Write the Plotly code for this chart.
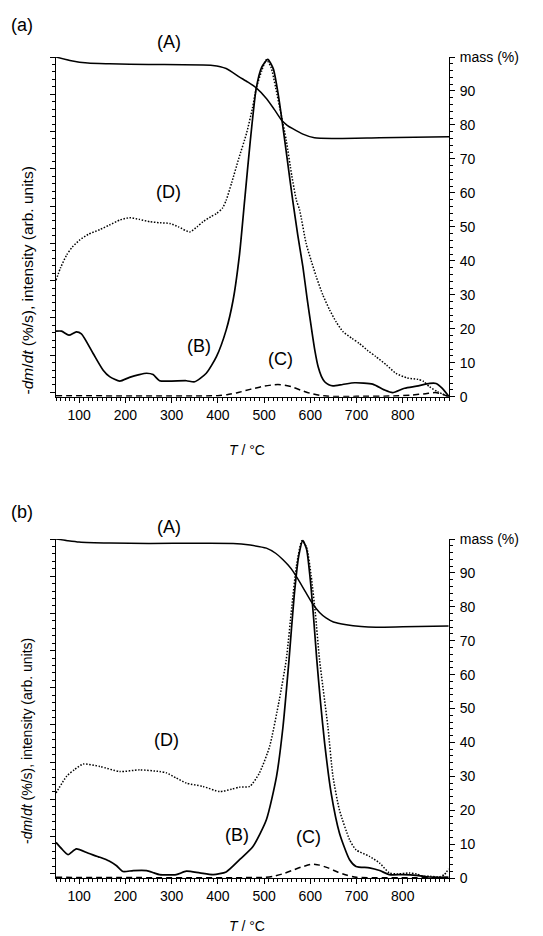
import plotly.graph_objects as go

# ---------------- data: panel (a) ----------------
A_a_T = [50, 80, 119, 166, 250, 389, 418, 447, 465, 483, 505, 522, 539, 550, 562, 584, 609, 650, 750, 900]
A_a = [100, 99.0, 98.2, 98.0, 97.8, 97.5, 96.6, 94.1, 92.6, 90.9, 87.8, 84.6, 81.2, 79.9, 78.9, 77.3, 76.2, 76.0, 76.2, 76.5]

B_a_T = [50, 62, 78, 94, 105, 130, 152, 166, 188, 209, 230, 246, 260, 274, 300, 332, 350, 375, 397, 418, 433,
         447, 458, 470, 483, 495, 508, 520, 530, 539, 550, 562, 573, 584, 593, 602, 610, 617, 624, 631, 640, 649,
         670, 696, 735, 760, 778, 804, 830, 858, 872, 885, 900]
B_a = [19.3, 19.3, 18.1, 19.1, 18.5, 12.8, 7.8, 5.9, 4.6, 5.7, 6.5, 6.9, 6.5, 4.7, 4.6, 4.7, 4.4, 6.9, 11.8, 19.6, 28.4,
       42, 57.8, 75, 90.7, 97, 99.3, 96.5, 89.5, 81.2, 70, 57.8, 47.5, 38.2, 29, 20.6, 13.5, 8.8, 6, 4.4, 3.5, 3.2,
       3.6, 4.1, 3.7, 2.0, 1.2, 2.5, 3.1, 3.9, 3.9, 2.5, 0]

C_a_T = [50, 400, 420, 440, 460, 480, 500, 520, 530, 545, 560, 580, 600, 620, 640, 700, 780, 820, 850, 870, 885, 899]
C_a = [0.3, 0.3, 0.6, 1.1, 1.8, 2.5, 3.1, 3.5, 3.6, 3.4, 2.9, 1.9, 1.0, 0.4, 0.1, 0.1, 0.2, 0.5, 0.9, 1.2, 0.8, 0]

D_a_T = [50, 60, 73, 85, 101, 120, 145, 165, 188, 209, 230, 253, 275, 296, 315, 339, 355, 368, 385, 397, 410, 418,
         430, 445, 462, 475, 483, 495, 505, 515, 525, 537, 548, 560, 570, 577, 591, 602, 613, 627, 642, 656, 671,
         690, 706, 725, 742, 765, 785, 810, 833, 845, 858, 875, 899]
D_a = [34.3, 38, 41.7, 44, 46.1, 47.8, 49.2, 50.5, 52, 52.7, 52.2, 51.5, 51.2, 51, 50, 48.5, 50, 51.5, 53, 53.9, 55.5, 57.8,
       63, 70, 77.5, 85, 90.7, 96, 99.2, 97, 91, 83, 75.5, 65, 57.8, 54.9, 45.1, 40, 35.3, 30, 25.5, 22, 19.1,
       17.2, 15.7, 13.5, 11.8, 9.3, 6.9, 5.5, 5.1, 4.5, 2.9, 1.5, 0]

# ---------------- data: panel (b) ----------------
A_b_T = [50, 75, 100, 166, 250, 433, 470, 505, 525, 541, 552, 562, 575, 590, 605, 620, 634, 650, 678, 710, 742, 800, 899]
A_b = [100, 99.5, 99.1, 98.8, 98.7, 98.7, 98.2, 97.3, 95.8, 93.9, 92.3, 90.6, 87.8, 84.3, 80.9, 78.3, 76.7, 75.5, 74.7,
       74.2, 74.0, 74.1, 74.3]

B_b_T = [50, 63, 76, 94, 120, 145, 165, 181, 195, 217, 246, 262, 274, 310, 332, 361, 390, 418, 447, 476, 505, 527,
         541, 554, 565, 575, 584, 592, 600, 607, 614, 622, 631, 645, 663, 685, 699, 728, 750, 771, 800, 829, 858, 899]
B_b = [10.5, 8.5, 6.9, 8.6, 7.3, 6.1, 5.0, 3.6, 1.9, 2.2, 2.2, 1.5, 1.0, 1.0, 2.0, 1.5, 1.0, 1.8, 5.4, 9.3, 17.2, 30,
       44.7, 64.4, 83, 95, 99.5, 97, 88, 77, 64.4, 52, 39.8, 25.1, 13.3, 5.4, 3.4, 3.0, 2.2, 1.0, 1.0, 0.8, 0.3, 0.2]

C_b_T = [50, 500, 520, 540, 560, 580, 600, 605, 620, 640, 660, 680, 700, 900]
C_b = [0.2, 0.2, 0.5, 1.2, 2.2, 3.2, 4.0, 4.1, 3.8, 2.9, 1.7, 0.8, 0.2, 0.2]

D_b_T = [50, 73, 90, 109, 145, 188, 231, 274, 289, 310, 332, 368, 404, 430, 447, 469, 490, 512, 533, 548, 560, 570,
         582, 592, 602, 611, 620, 638, 649, 663, 685, 699, 728, 750, 771, 790, 814, 830, 844, 860, 879, 890, 899]
D_b = [25.1, 30, 32, 33.6, 32.9, 31.4, 31.9, 31.4, 31, 29.5, 28, 27, 25.5, 26.2, 26.8, 27, 31, 38.8, 52.6, 64.4, 80, 92,
       99.5, 97.5, 89, 78, 64.4, 44.7, 30, 20.1, 11.3, 8.3, 6.4, 4.4, 1.5, 1.2, 1.5, 1.2, 0.5, 0.5, 0.3, 1.0, 2.7]

x_ticks = [100, 200, 300, 400, 500, 600, 700, 800]
mass_ticks = [0, 10, 20, 30, 40, 50, 60, 70, 80, 90, 100]
mass_labels = ["0", "10", "20", "30", "40", "50", "60", "70", "80", "90", "mass (%)"]

FONT = "Arial, Liberation Sans, sans-serif"
OFF = 8  # page body margin offset
W, H = 543 - OFF, 936 - OFF
ML, MR, MT, MB = 56 - OFF, 94, 57 - OFF, 58
PH = H - MT - MB


def clamp(v):
    return max(0.0, min(1.0, v))


def py(p):  # reference page pixel y -> paper y
    return (H - MB - (p - OFF)) / PH


def px(p):  # reference page pixel x -> paper x
    return ((p - OFF) - ML) / (W - ML - MR)


fig = go.Figure()

line_kw = dict(shape="spline", smoothing=0.6, color="black")
panels = [
    ("x", "y", "y2", A_a_T, A_a, B_a_T, B_a, C_a_T, C_a, D_a_T, D_a),
    ("x2", "y3", "y4", A_b_T, A_b, B_b_T, B_b, C_b_T, C_b, D_b_T, D_b),
]
for xa, yl, yr, aT, a, bT, b, cT, c, dT, d in panels:
    fig.add_trace(go.Scatter(x=dT, y=d, mode="lines", xaxis=xa, yaxis=yl,
                             line=dict(width=1.5, dash="1.5px,1.6px", **line_kw), name="D"))
    fig.add_trace(go.Scatter(x=cT, y=c, mode="lines", xaxis=xa, yaxis=yl,
                             line=dict(width=1.5, dash="6px,4px", **line_kw), name="C"))
    fig.add_trace(go.Scatter(x=bT, y=b, mode="lines", xaxis=xa, yaxis=yl,
                             line=dict(width=1.7, **line_kw), name="B"))
    fig.add_trace(go.Scatter(x=aT, y=a, mode="lines", xaxis=xa, yaxis=yr,
                             line=dict(width=1.5, **line_kw), name="A"))

tickfont = dict(family=FONT, size=14, color="black")


def xaxis(anchor):
    return dict(domain=[0, 1], anchor=anchor, range=[50, 900], showline=True, linecolor="black",
                linewidth=1, ticks="outside", ticklen=5, tickcolor="black", tickvals=x_ticks,
                showgrid=False, zeroline=False, tickfont=tickfont,
                minor=dict(ticks="outside", ticklen=3, tickcolor="black", dtick=10, tick0=0, showgrid=False))


def yleft(anchor, dom):
    return dict(domain=dom, anchor=anchor, range=[0, 100], showline=True, linecolor="black",
                linewidth=1, ticks="outside", ticklen=5, tickcolor="black", tickmode="linear",
                tick0=100, dtick=10.97, showticklabels=False, showgrid=False, zeroline=False,
                minor=dict(ticks="outside", ticklen=3, tickcolor="black", dtick=10.97 / 5, tick0=100,
                           showgrid=False))


def yright(anchor, over):
    return dict(overlaying=over, side="right", anchor=anchor, range=[0, 100], showline=True,
                linecolor="black", linewidth=1, ticks="outside", ticklen=5, tickcolor="black",
                tickvals=mass_ticks, ticktext=mass_labels, showgrid=False, zeroline=False,
                tickfont=tickfont, ticklabelstandoff=2,
                minor=dict(ticks="outside", ticklen=3, tickcolor="black", dtick=2, tick0=0, showgrid=False))


top_dom = [clamp(py(396.7)), clamp(py(57))]
bot_dom = [clamp(py(878.3)), clamp(py(539))]

fig.update_layout(
    width=W, height=H, margin=dict(l=ML, r=MR, t=MT, b=MB),
    paper_bgcolor="white", plot_bgcolor="white", showlegend=False,
    font=dict(family=FONT, color="black"),
    xaxis=xaxis("y"), yaxis=yleft("x", top_dom), yaxis2=yright("x", "y"),
    xaxis2=xaxis("y3"), yaxis3=yleft("x2", bot_dom), yaxis4=yright("x2", "y3"),
)

labels = [
    ("(a)", 22, 25, 18), ("(A)", 169, 42, 18), ("(D)", 168.5, 192, 18), ("(B)", 198.5, 346, 18), ("(C)", 280, 359, 18),
    ("(b)", 22, 512, 18), ("(A)", 169, 527, 18), ("(D)", 166, 740, 18), ("(B)", 236.5, 835, 18), ("(C)", 308.5, 837, 18),
    ("<i>T</i> / °C", 247, 450, 14), ("<i>T</i> / °C", 247, 926, 14),
]
for txt, x0, y0, fs in labels:
    fig.add_annotation(text=txt, x=px(x0), y=py(y0), xref="paper", yref="paper", showarrow=False,
                       xanchor="center", yanchor="middle", font=dict(family=FONT, size=fs, color="black"))

ytitle = "-<i>dm</i>/<i>dt</i> (%/s), intensity (arb. units)"
for yc, fs in ((281, 15.5), (741.5, 14)):
    fig.add_annotation(text=ytitle, x=px(26.5), y=py(yc), xref="paper", yref="paper", showarrow=False,
                       textangle=-90, xanchor="center", yanchor="middle",
                       font=dict(family=FONT, size=fs, color="black"))

fig.write_html("out.html")
